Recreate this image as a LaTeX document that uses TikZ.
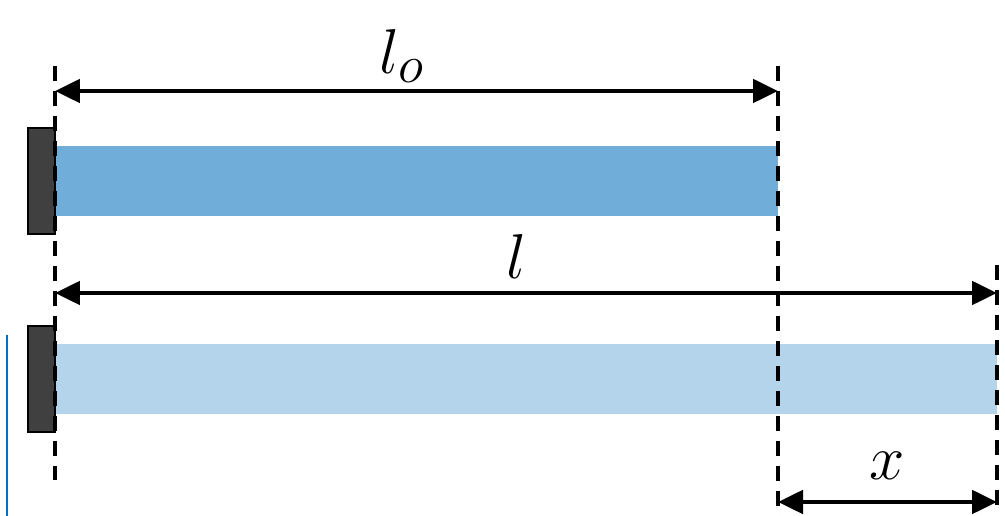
\documentclass[tikz,border=0pt]{standalone}
\usepackage{graphicx}
\usetikzlibrary{arrows.meta}

\definecolor{barDark}{RGB}{112,173,216}
\definecolor{barLight}{RGB}{180,212,236}
\definecolor{wallGray}{RGB}{64,64,64}
\definecolor{markBlue}{RGB}{0,112,192}

\newcommand{\biglbl}[1]{\scalebox{1.45}{$#1$}}

\begin{document}
\begin{tikzpicture}[
        x=0.02cm, y=-0.02cm,
        wall/.style={draw=black, line width=1.2pt, fill=wallGray},
        guide/.style={line width=2.4pt, dash pattern=on 0.3cm off 0.2cm},
        dim/.style={line width=2.8pt, {Triangle[length=0.5cm,width=0.46cm]}-{Triangle[length=0.5cm,width=0.46cm]}},
        lbl/.style={font=\Huge}
    ]
    \useasboundingbox (0,0) rectangle (1005,516);

    % bars
    \fill[barDark] (55,146) rectangle (778,216);
    \fill[barLight] (55,344) rectangle (997,414);

    % walls
    \draw[wall] (28,128) rectangle (55,234);
    \draw[wall] (28,326) rectangle (55,432);

    \draw[markBlue, line width=1.4pt] (7,335) -- (7,516);

    % guide lines
    \coordinate (fixTop) at (55,66);
    \coordinate (fixBot) at (55,480);
    \coordinate (restTop) at (778,66);
    \coordinate (restBot) at (778,516);
    \coordinate (endTop) at (997,265);
    \coordinate (endBot) at (997,512);
    \draw[guide] (fixTop) -- (fixBot);
    \draw[guide] (restTop) -- (restBot);
    \draw[guide] (endTop) -- (endBot);

    % dimensions
    \coordinate (lo0) at (55,91);
    \coordinate (lo1) at (778,91);
    \coordinate (l0) at (55,293);
    \coordinate (l1) at (997,293);
    \coordinate (x0) at (778,502);
    \coordinate (x1) at (997,502);
    \draw[dim] (lo0) -- (lo1);
    \draw[dim] (l0) -- (l1);
    \draw[dim] (x0) -- (x1);

    \node[lbl] (loLabel) at (402,56) {\biglbl{l_o}};
    \node[lbl] (lLabel) at (516,256) {\biglbl{l}};
    \node[lbl] (xLabel) at (887,466) {\biglbl{x}};

\end{tikzpicture}
\end{document}
